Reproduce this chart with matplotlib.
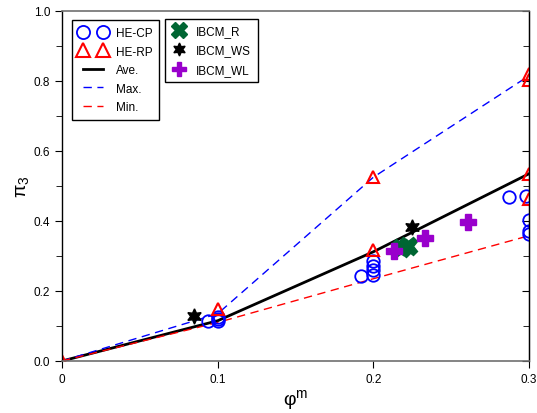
import numpy as np
import matplotlib.pyplot as plt
from matplotlib.ticker import MultipleLocator, FixedFormatter, FixedLocator

plt.rcParams['font.family'] = ['Liberation Sans', 'DejaVu Sans']
plt.rcParams['mathtext.fontset'] = 'custom'
plt.rcParams['mathtext.rm'] = 'Liberation Sans'

# fitted lines
line_x = [0, 0.1, 0.2, 0.3]
ave = [0, 0.115, 0.312, 0.535]
vmax = [0, 0.135, 0.525, 0.815]
vmin = [0, 0.11, 0.235, 0.358]

# HE-CP (circles)
cp_x = [0.094, 0.1, 0.1, 0.1, 0.192, 0.2, 0.2, 0.2, 0.2, 0.287, 0.298, 0.3, 0.3, 0.3]
cp_y = [0.113, 0.113, 0.12, 0.125, 0.244, 0.245, 0.26, 0.272, 0.285, 0.47, 0.472, 0.404, 0.372, 0.364]

# HE-RP (triangles)
rp_x = [0, 0.1, 0.2, 0.2, 0.3, 0.3, 0.3, 0.3]
rp_y = [0, 0.148, 0.525, 0.318, 0.82, 0.803, 0.535, 0.462]

# IBCM
r_x = [0.218, 0.222]
r_y = [0.322, 0.328]
ws_x = [0.085, 0.225]
ws_y = [0.129, 0.382]
wl_x = [0.213, 0.233, 0.261]
wl_y = [0.315, 0.352, 0.398]

fig = plt.figure(figsize=(5.37, 4.14), dpi=100)
ax = fig.add_axes([62/537, 1-362/414, (529-62)/537, (362-12)/414])

l_ave, = ax.plot(line_x, ave, color='black', lw=2, label='Ave.')
l_max, = ax.plot(line_x, vmax, color='#0000FF', lw=1, ls=(0, (6, 4)), label='Max.')
l_min, = ax.plot(line_x, vmin, color='#FF0000', lw=1, ls=(0, (6, 4)), label='Min.')

h_cp, = ax.plot(cp_x, cp_y, 'o', ms=9, mfc='none', mec='#0000FF', mew=1.3, ls='none', label='HE-CP')
h_rp, = ax.plot(rp_x, rp_y, '^', ms=9, mfc='none', mec='#FF0000', mew=1.5, ls='none', label='HE-RP')
h_r, = ax.plot(r_x, r_y, 'X', ms=13, color='#006633', mec='#006633', ls='none', label='IBCM_R')
h_ws, = ax.plot(ws_x, ws_y, marker=(6, 1, 0), ms=11, color='black', ls='none', label='IBCM_WS')
h_wl, = ax.plot(wl_x, wl_y, 'P', ms=12, color='#9900CC', mec='#9900CC', ls='none', label='IBCM_WL')

ax.set_xlim(0, 0.3)
ax.set_ylim(0, 1.0)
ax.xaxis.set_major_locator(FixedLocator([0, 0.1, 0.2, 0.3]))
ax.xaxis.set_major_formatter(FixedFormatter(['0', '0.1', '0.2', '0.3']))
ax.yaxis.set_major_locator(MultipleLocator(0.2))
ax.yaxis.set_minor_locator(MultipleLocator(0.1))
ax.yaxis.set_major_formatter(plt.FormatStrFormatter('%.1f'))
ax.tick_params(axis='both', which='both', direction='out', labelsize=8.5, length=5)
ax.tick_params(axis='y', which='minor', length=4)

for s in ['top', 'bottom']:
    ax.spines[s].set_color('#707070')
    ax.spines[s].set_linewidth(1.2)
ax.spines['left'].set_linewidth(1)
ax.spines['right'].set_linewidth(1)

sec = ax.secondary_yaxis('right')
sec.yaxis.set_major_locator(MultipleLocator(0.2))
sec.yaxis.set_minor_locator(MultipleLocator(0.1))
sec.tick_params(which='both', direction='in', labelright=False, length=5)
sec.tick_params(which='minor', length=4)

ax.set_xlabel('φ$^{\\rm m}$', fontsize=14, labelpad=2)
ax.set_ylabel('π$_{\\rm 3}$', fontsize=14, labelpad=1)

leg1 = fig.legend([h_cp, h_rp, l_ave, l_max, l_min], ['HE-CP', 'HE-RP', 'Ave.', 'Max.', 'Min.'],
                  loc='upper left', bbox_to_anchor=(72/537, 1-21/414), numpoints=2,
                  borderaxespad=0, markerscale=1.05,
                  fontsize=8.5, fancybox=False, edgecolor='black', framealpha=1,
                  handlelength=2.3, labelspacing=0.55, borderpad=0.6, handletextpad=0.8)
leg1.get_frame().set_linewidth(1)
leg2 = fig.legend([h_r, h_ws, h_wl], ['IBCM_R', 'IBCM_WS', 'IBCM_WL'],
                  loc='upper left', bbox_to_anchor=(165/537, 1-20/414), numpoints=1,
                  borderaxespad=0, markerscale=0.85,
                  fontsize=8.5, fancybox=False, edgecolor='black', framealpha=1,
                  handlelength=1.3, labelspacing=0.6, borderpad=0.55, handletextpad=0.8)
leg2.get_frame().set_linewidth(1)

plt.savefig('out.png', dpi=100)
